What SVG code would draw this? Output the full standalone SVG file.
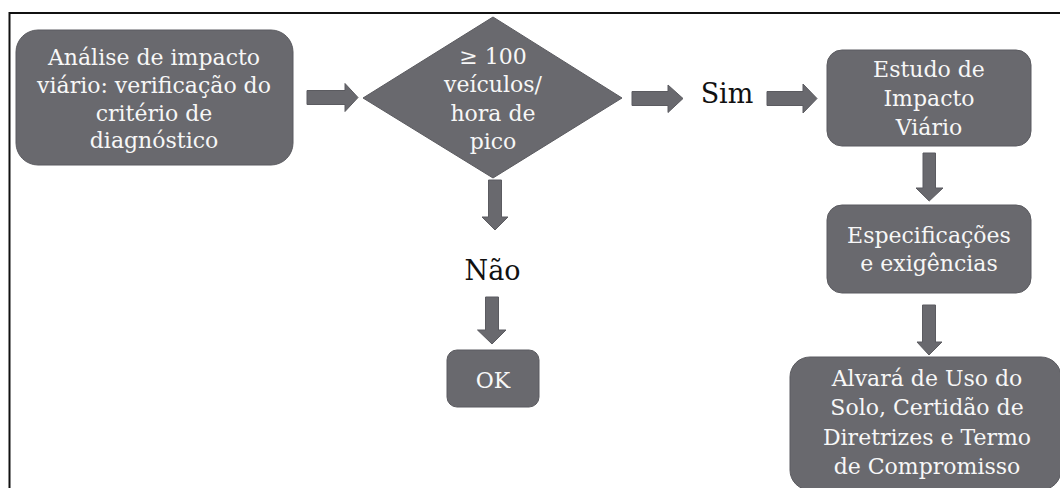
<svg xmlns="http://www.w3.org/2000/svg" width="1060" height="488" viewBox="0 0 1060 488">
<style>
.box{fill:#69696e;stroke:#5b5b60;stroke-width:1}
.arr{fill:#69696e;stroke:#5b5b60;stroke-width:1}
.t{font-family:"DejaVu Serif","Liberation Serif",serif;font-size:22px;fill:#f7f7f7;text-anchor:middle}
.lbl{font-family:"DejaVu Serif","Liberation Serif",serif;font-size:27px;fill:#111;text-anchor:middle}
</style>
<rect x="0" y="0" width="1060" height="488" fill="#fff"/>
<path d="M9.5 500 V13 H1070" fill="none" stroke="#111" stroke-width="2"/>
<g id="connectors">
<polygon class="arr" points="307,90.5 345,90.5 345,83.5 358,97.5 345,111.5 345,104.5 307,104.5"/>
<polygon class="arr" points="632,91.5 668,91.5 668,85 683,98.5 668,112.5 668,105.5 632,105.5"/>
<polygon class="arr" points="767,91.5 803,91.5 803,84 817,98.5 803,113 803,105.5 767,105.5"/>
<polygon class="arr" points="923,153 935.5,153 935.5,188 943,188 929.2,201 916,188 923,188"/>
<polygon class="arr" points="922.5,305 935.5,305 935.5,342 942,342 929,355 917,342 922.5,342"/>
<polygon class="arr" points="488.5,180 501.5,180 501.5,217 508,217 495,230 482,217 488.5,217"/>
<polygon class="arr" points="485.5,297 498.5,297 498.5,330 506,330 492,344 477.5,330 485.5,330"/>
</g>
<g id="n1">
<rect class="box" x="16" y="30" width="277" height="135" rx="22"/>
<text class="t" x="154" y="65">Análise de impacto</text>
<text class="t" x="154" y="93">viário: verificação do</text>
<text class="t" x="154" y="121">critério de</text>
<text class="t" x="154" y="148">diagnóstico</text>
</g>
<g id="n2">
<polygon class="box" points="363,98 493,17 622,98 493,178"/>
<text class="t" x="493" y="64">≥ 100</text>
<text class="t" x="493" y="92">veículos/</text>
<text class="t" x="493" y="121">hora de</text>
<text class="t" x="493" y="149">pico</text>
</g>
<g id="sim"><text class="lbl" x="727" y="103">Sim</text></g>
<g id="nao"><text class="lbl" x="492.5" y="280">Não</text></g>
<g id="n3">
<rect class="box" x="827" y="50" width="204" height="96" rx="15"/>
<text class="t" x="929" y="77">Estudo de</text>
<text class="t" x="929" y="106">Impacto</text>
<text class="t" x="929" y="135">Viário</text>
</g>
<g id="n4">
<rect class="box" x="827" y="205" width="204" height="88" rx="15"/>
<text class="t" x="929" y="243">Especificações</text>
<text class="t" x="929" y="271">e exigências</text>
</g>
<g id="n5">
<rect class="box" x="790" y="357" width="271" height="133" rx="20"/>
<text class="t" x="927" y="386">Alvará de Uso do</text>
<text class="t" x="927" y="415">Solo, Certidão de</text>
<text class="t" x="927" y="445">Diretrizes e Termo</text>
<text class="t" x="927" y="474">de Compromisso</text>
</g>
<g id="ok">
<rect class="box" x="447" y="350" width="92" height="57" rx="10"/>
<text class="t" x="493" y="388">OK</text>
</g>
</svg>
